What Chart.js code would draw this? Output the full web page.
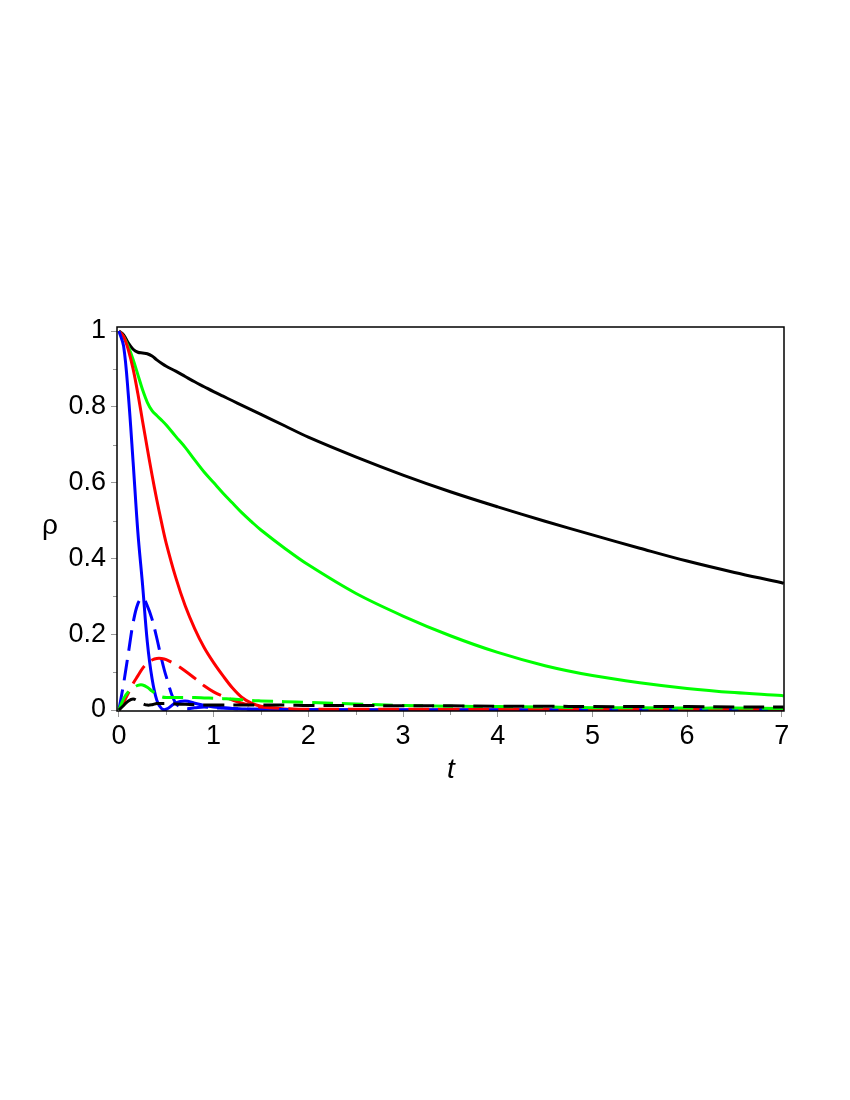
<!DOCTYPE html>
<html>
<head>
<meta charset="utf-8">
<script src="https://cdn.jsdelivr.net/npm/chart.js@4.4.1/dist/chart.umd.min.js"></script>
<style>
  html, body { margin: 0; padding: 0; background: #fff; }
  #wrap { width: 850px; height: 1100px; position: relative; }
</style>
</head>
<body>
<div id="wrap"><canvas id="rhoChart"></canvas></div>
<script>
// time samples (shared by every curve)
const tValues = [0, 0.05, 0.1, 0.15, 0.2, 0.25, 0.3, 0.35, 0.4, 0.45, 0.5, 0.6, 0.7, 0.8, 0.9, 1,
  1.1, 1.2, 1.3, 1.4, 1.5, 1.75, 2, 2.5, 3, 3.5, 4, 4.5, 5, 5.5, 6, 6.5, 7, 7.02];

// solid curves
const blackSolid = [1, 0.99, 0.968, 0.952, 0.944, 0.942, 0.94, 0.934, 0.924, 0.915, 0.907, 0.894, 0.88, 0.866, 0.853, 0.84,
  0.828, 0.816, 0.804, 0.792, 0.78, 0.75, 0.72, 0.668, 0.62, 0.576, 0.536, 0.498, 0.462, 0.427, 0.393, 0.363, 0.336, 0.334];
const greenSolid = [1, 0.985, 0.958, 0.925, 0.885, 0.845, 0.812, 0.79, 0.777, 0.765, 0.752, 0.722, 0.693, 0.66, 0.628, 0.6,
  0.572, 0.546, 0.52, 0.497, 0.475, 0.427, 0.383, 0.308, 0.248, 0.196, 0.152, 0.117, 0.091, 0.072, 0.057, 0.046, 0.038, 0.037];
const redSolid = [1, 0.985, 0.95, 0.9, 0.835, 0.762, 0.69, 0.62, 0.555, 0.495, 0.44, 0.35, 0.275, 0.215, 0.165, 0.125,
  0.09, 0.058, 0.033, 0.018, 0.01, 0.003, 0.001, 0, 0, 0, 0, 0, 0, 0, 0, 0, 0, 0];
const blueSolid = [1, 0.96, 0.83, 0.655, 0.47, 0.33, 0.18, 0.083, 0.026, 0.004, 0.002, 0.019, 0.024, 0.018, 0.012, 0.008,
  0.006, 0.004, 0.003, 0.002, 0.002, 0.001, 0.001, 0, 0, 0, 0, 0, 0, 0, 0, 0, 0, 0];

// dashed curves
const blackDashed = [0, 0.012, 0.024, 0.029, 0.024, 0.017, 0.013, 0.014, 0.017, 0.017, 0.017, 0.016, 0.015, 0.014, 0.013, 0.013,
  0.013, 0.013, 0.013, 0.013, 0.013, 0.013, 0.012, 0.012, 0.011, 0.011, 0.01, 0.01, 0.009, 0.009, 0.009, 0.008, 0.008, 0.008];
const greenDashed = [0, 0.03, 0.048, 0.058, 0.065, 0.066, 0.06, 0.05, 0.041, 0.035, 0.033, 0.033, 0.033, 0.033, 0.032, 0.031,
  0.03, 0.029, 0.027, 0.025, 0.024, 0.022, 0.02, 0.016, 0.012, 0.01, 0.009, 0.008, 0.006, 0.006, 0.005, 0.005, 0.004, 0.004];
const redDashed = [0, 0.02, 0.045, 0.07, 0.09, 0.11, 0.124, 0.132, 0.136, 0.136, 0.133, 0.12, 0.103, 0.084, 0.064, 0.048,
  0.036, 0.026, 0.018, 0.012, 0.008, 0.004, 0.002, 0.002, 0.002, 0.002, 0.002, 0.002, 0.002, 0.002, 0.002, 0.002, 0.002, 0.002];
const blueDashed = [0, 0.07, 0.15, 0.23, 0.28, 0.296, 0.275, 0.24, 0.19, 0.135, 0.088, 0.018, 0.004, 0.006, 0.008, 0.006,
  0.005, 0.004, 0.003, 0.002, 0.002, 0.001, 0, 0, 0, 0, 0, 0, 0, 0, 0, 0, 0, 0];

// axes
const xTicks = [0, 1, 2, 3, 4, 5, 6, 7];
const yTicks = [0, 0.2, 0.4, 0.6, 0.8, 1];
const xMinor = [0.5, 1.5, 2.5, 3.5, 4.5, 5.5, 6.5];
const yMinor = [0.1, 0.3, 0.5, 0.7, 0.9];

const toPoints = (ys) => tValues.map((t, i) => ({ x: t, y: ys[i] }));

function curve(label, ys, color, dashed, order) {
  return {
    label: label,
    data: toPoints(ys),
    borderColor: color,
    backgroundColor: color,
    borderWidth: 3,
    borderDash: dashed ? [21, 9] : [],
    pointRadius: 0,
    tension: 0.35,
    fill: false,
    order: order
  };
}

// frame, minor ticks and axis letters
const framePlugin = {
  id: 'frame',
  afterDraw(chart) {
    const ctx = chart.ctx;
    const a = chart.chartArea;
    const xs = chart.scales.x, ys = chart.scales.y;
    ctx.save();
    ctx.strokeStyle = '#999';
    ctx.lineWidth = 1;
    ctx.beginPath();
    xMinor.forEach(v => {
      const px = Math.round(xs.getPixelForValue(v)) + 0.5;
      ctx.moveTo(px, a.bottom); ctx.lineTo(px, a.bottom + 4);
    });
    yMinor.forEach(v => {
      const py = Math.round(ys.getPixelForValue(v)) + 0.5;
      ctx.moveTo(a.left, py); ctx.lineTo(a.left - 4, py);
    });
    ctx.stroke();

    ctx.strokeStyle = '#000';
    ctx.lineWidth = 1.5;
    ctx.strokeRect(a.left, a.top, a.right - a.left, a.bottom - a.top);

    ctx.fillStyle = '#000';
    ctx.textAlign = 'center';
    ctx.textBaseline = 'middle';
    ctx.font = '28px "Liberation Sans", Arial, sans-serif';
    ctx.fillText('ρ', 50, 526);
    ctx.font = 'italic 28px "Liberation Sans", Arial, sans-serif';
    ctx.fillText('t', 451, 770);
    ctx.restore();
  }
};

const tickFont = { family: '"Liberation Sans", Arial, sans-serif', size: 27 };

new Chart(document.getElementById('rhoChart'), {
  type: 'line',
  data: {
    datasets: [
      curve('black dashed', blackDashed, '#000000', true, 1),
      curve('green dashed', greenDashed, '#00ff00', true, 2),
      curve('red dashed', redDashed, '#ff0000', true, 3),
      curve('blue dashed', blueDashed, '#0000ff', true, 4),
      curve('blue', blueSolid, '#0000ff', false, 5),
      curve('red', redSolid, '#ff0000', false, 6),
      curve('green', greenSolid, '#00ff00', false, 7),
      curve('black', blackSolid, '#000000', false, 8)
    ]
  },
  options: {
    responsive: true,
    maintainAspectRatio: false,
    animation: false,
    layout: { padding: { left: 0, right: 66, top: 327, bottom: 309 } },
    plugins: { legend: { display: false }, tooltip: { enabled: false } },
    scales: {
      x: {
        type: 'linear',
        min: -0.02,
        max: 7.023,
        afterFit: (s) => { s.height = 80; },
        afterBuildTicks: (s) => { s.ticks = xTicks.map(v => ({ value: v })); },
        grid: { drawOnChartArea: false, tickLength: 6, color: '#999' },
        border: { display: false },
        ticks: { font: tickFont, color: '#000', padding: 3, maxRotation: 0, autoSkip: false,
          callback: (v) => String(v) }
      },
      y: {
        type: 'linear',
        min: -0.0026,
        max: 1.0106,
        afterFit: (s) => { s.width = 117; },
        afterBuildTicks: (s) => { s.ticks = yTicks.map(v => ({ value: v })); },
        grid: { drawOnChartArea: false, tickLength: 6, color: '#999' },
        border: { display: false },
        ticks: { font: tickFont, color: '#000', padding: 5, autoSkip: false,
          callback: (v) => String(Math.round(v * 10) / 10) }
      }
    }
  },
  plugins: [framePlugin]
});
</script>
</body>
</html>
